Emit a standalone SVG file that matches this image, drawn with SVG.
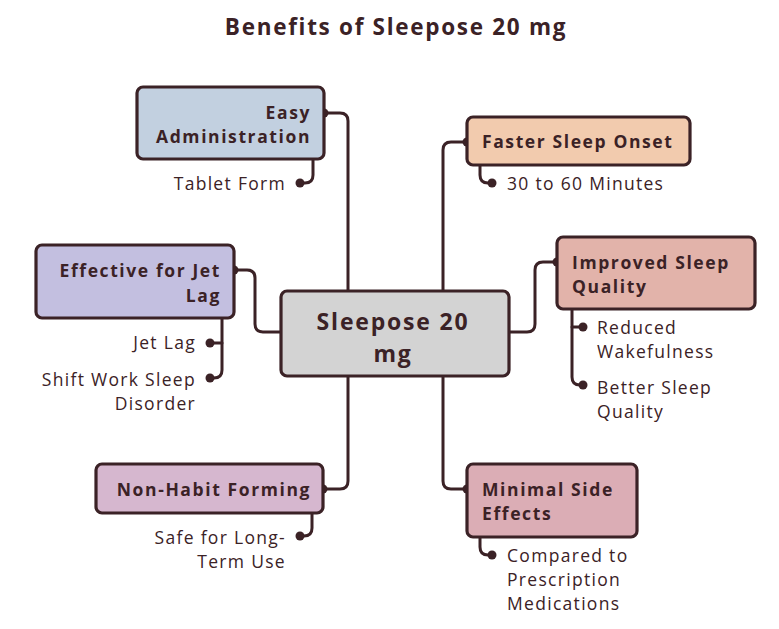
<svg xmlns="http://www.w3.org/2000/svg" width="779" height="629" viewBox="0 0 779 629">
<style>
.box{stroke:#3b2226;stroke-width:3.2;}
.lbl{font-family:"Open Sans","DejaVu Sans",sans-serif;font-weight:700;font-size:17.5px;letter-spacing:1.6px;fill:#3b2226;}
.sub{font-family:"Open Sans","DejaVu Sans",sans-serif;font-size:17.5px;letter-spacing:1.3px;fill:#3b2226;}
.ttl{font-family:"Open Sans","DejaVu Sans",sans-serif;font-weight:700;font-size:22.5px;letter-spacing:1.7px;fill:#3b2226;}
.ctr{font-family:"Open Sans","DejaVu Sans",sans-serif;font-weight:700;font-size:23px;letter-spacing:1.8px;fill:#3b2226;}
.ln{fill:none;stroke:#3b2226;stroke-width:3;stroke-linecap:round;stroke-linejoin:round;}
.dot{fill:#3b2226;}
</style>
<rect width="779" height="629" fill="#ffffff"/>
<text class="ttl" x="396" y="35" text-anchor="middle">Benefits of Sleepose 20 mg</text>

<g id="connectors">
<path class="ln" d="M324,113 H340 Q348,113 348,121 V291"/>
<path class="ln" d="M467,142 H451 Q443,142 443,150 V291"/>
<path class="ln" d="M234,270 H247 Q255,270 255,278 V324 Q255,332 263,332 H281"/>
<path class="ln" d="M557,262 H543 Q535,262 535,270 V324 Q535,332 527,332 H509"/>
<path class="ln" d="M323,489 H340 Q348,489 348,481 V376"/>
<path class="ln" d="M467,489 H451 Q443,489 443,481 V376"/>
<path class="ln" d="M313,159 V175 Q313,183 305,183 H300"/>
<path class="ln" d="M480,165 V175 Q480,183 488,183 H492"/>
<path class="ln" d="M222,318 V370 Q222,378 214,378 H210"/>
<path class="ln" d="M222,343 H210"/>
<path class="ln" d="M572,309 V377 Q572,385 580,385 H583"/>
<path class="ln" d="M572,327 H583"/>
<path class="ln" d="M312,513 V528 Q312,536 304,536 H300"/>
<path class="ln" d="M480,537 V547 Q480,555 488,555 H492"/>
<circle class="dot" cx="324" cy="113" r="4.5"/>
<circle class="dot" cx="467" cy="142" r="4.5"/>
<circle class="dot" cx="234" cy="270" r="4.5"/>
<circle class="dot" cx="557" cy="262" r="4.5"/>
<circle class="dot" cx="323" cy="489" r="4.5"/>
<circle class="dot" cx="467" cy="489" r="4.5"/>
<circle class="dot" cx="300" cy="183" r="4.5"/>
<circle class="dot" cx="492" cy="183" r="4.5"/>
<circle class="dot" cx="210" cy="343" r="4.5"/>
<circle class="dot" cx="210" cy="378" r="4.5"/>
<circle class="dot" cx="583" cy="327" r="4.5"/>
<circle class="dot" cx="583" cy="385" r="4.5"/>
<circle class="dot" cx="300" cy="536" r="4.5"/>
<circle class="dot" cx="492" cy="555" r="4.5"/>
</g>

<g id="center">
<rect class="box" x="281" y="291" width="228" height="85" rx="6" fill="#d3d3d3"/>
<text class="ctr" x="393" y="330" text-anchor="middle">Sleepose 20</text>
<text class="ctr" x="393" y="362" text-anchor="middle">mg</text>
</g>

<g id="easy-administration">
<rect class="box" x="137" y="87" width="187" height="72" rx="6" fill="#c2d0e0"/>
<text class="lbl" x="311" y="119" text-anchor="end">Easy</text>
<text class="lbl" x="311" y="143" text-anchor="end">Administration</text>
<text class="sub" x="286" y="190" text-anchor="end">Tablet Form</text>
</g>

<g id="faster-sleep-onset">
<rect class="box" x="467" y="117" width="223" height="48" rx="6" fill="#f2cbae"/>
<text class="lbl" x="482" y="148">Faster Sleep Onset</text>
<text class="sub" x="507" y="190">30 to 60 Minutes</text>
</g>

<g id="effective-for-jet-lag">
<rect class="box" x="36" y="245" width="198" height="73" rx="6" fill="#c3bfe0"/>
<text class="lbl" x="221" y="277" text-anchor="end">Effective for Jet</text>
<text class="lbl" x="221" y="302" text-anchor="end">Lag</text>
<text class="sub" x="196" y="349" text-anchor="end">Jet Lag</text>
<text class="sub" x="196" y="386" text-anchor="end">Shift Work Sleep</text>
<text class="sub" x="196" y="410" text-anchor="end">Disorder</text>
</g>

<g id="improved-sleep-quality">
<rect class="box" x="557" y="237" width="198" height="72" rx="6" fill="#e2b3aa"/>
<text class="lbl" x="572" y="269">Improved Sleep</text>
<text class="lbl" x="572" y="293">Quality</text>
<text class="sub" x="597" y="334">Reduced</text>
<text class="sub" x="597" y="358">Wakefulness</text>
<text class="sub" x="597" y="394">Better Sleep</text>
<text class="sub" x="597" y="418">Quality</text>
</g>

<g id="non-habit-forming">
<rect class="box" x="96" y="464" width="227" height="49" rx="6" fill="#d6b7cf"/>
<text class="lbl" x="311" y="496" text-anchor="end">Non-Habit Forming</text>
<text class="sub" x="286" y="544" text-anchor="end">Safe for Long-</text>
<text class="sub" x="286" y="568" text-anchor="end">Term Use</text>
</g>

<g id="minimal-side-effects">
<rect class="box" x="467" y="464" width="170" height="73" rx="6" fill="#dbadb5"/>
<text class="lbl" x="482" y="496">Minimal Side</text>
<text class="lbl" x="482" y="520">Effects</text>
<text class="sub" x="507" y="562">Compared to</text>
<text class="sub" x="507" y="586">Prescription</text>
<text class="sub" x="507" y="610">Medications</text>
</g>
</svg>
